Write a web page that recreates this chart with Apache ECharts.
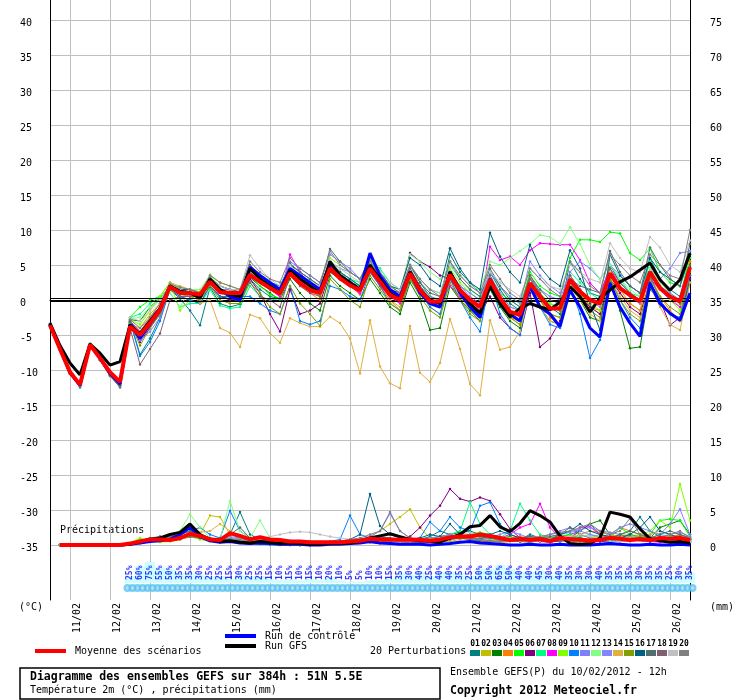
<!DOCTYPE html>
<html>
<head>
<meta charset="utf-8">
<script src="https://cdn.jsdelivr.net/npm/echarts@6/dist/echarts.min.js"></script>
<style>html,body{margin:0;padding:0;background:#fff}#chart{width:740px;height:700px}</style>
</head>
<body>
<div id="chart"></div>
<script>
// run du 10/02/2012 12h, pas de 6h jusqu'a 384h
var DAYS = ['10/02','11/02','12/02','13/02','14/02','15/02','16/02','17/02','18/02','19/02','20/02','21/02','22/02','23/02','24/02','25/02','26/02'];
var TICKS_T = [-35,-30,-25,-20,-15,-10,-5,0,5,10,15,20,25,30,35,40];
var TICKS_MM = [0,5,10,15,20,25,30,35,40,45,50,55,60,65,70,75];
var COLORS = ['#008080','#c0c000','#008000','#ff8000','#00ff00','#800080','#00ff80','#ff00ff','#80ff00','#0080ff',
              '#8080ff','#80ff80','#8484ff','#e0b040','#80a000','#006080','#507070','#806070','#c0c0c0','#808080'];

// temperature 2m (°C)
var TMEAN = [-3.6,-7.0,-10.3,-12.1, -6.4,-8.3,-10.3,-11.7, -3.8,-5.0,-3.3,-1.4, 1.9,1.0,1.0,0.8, 2.6,1.1,1.0,1.0,
  3.6,2.6,1.7,0.9, 3.8,2.4,1.4,1.0, 4.5,3.1,2.1,1.4, 4.5,2.6,0.7,0.0, 3.8,1.4,-0.2,-0.2, 3.6,1.4,0.0,-1.0,
  2.9,0.3,-1.7,-2.1, 2.4,0.5,-1.2,-1.2, 2.9,1.2,0.0,-0.5, 3.8,1.7,0.7,-0.2, 4.0,1.7,0.5,-0.2, 4.7];
var TCTRL = [-3.4,-7.0,-10.4,-12.2, -6.3,-8.3,-10.5,-12.0, -3.5,-5.5,-3.5,-1.5, 2.0,1.2,1.0,0.5, 2.8,1.5,0.5,0.0,
  4.7,3.5,2.5,1.5, 4.5,3.5,2.5,1.5, 5.0,3.5,2.5,1.5, 6.7,3.5,1.5,0.5, 4.0,1.0,-0.5,-1.0, 4.0,1.0,-1.0,-2.5,
  3.0,0.0,-2.0,-3.0, 2.0,-1.0,-2.0,-3.8, 1.4,-1.0,-4.0,-5.3, 2.4,-1.0,-3.3,-5.2, 2.4,-0.5,-1.9,-2.9, 1.0];
var TGFS = [-3.3,-6.5,-9.0,-10.7, -6.3,-7.6,-9.3,-8.8, -3.6,-4.8,-3.0,-1.2, 2.0,1.2,1.0,0.3, 3.0,1.5,0.8,0.5,
  4.5,3.0,2.0,1.0, 4.2,3.0,2.0,1.0, 5.5,3.5,2.5,1.5, 5.0,3.0,1.0,0.0, 4.0,1.5,0.0,-0.5, 4.0,1.5,-0.5,-1.9,
  2.0,-0.5,-2.4,-1.2, -0.5,-1.0,-1.4,-0.3, 1.9,0.5,-1.7,0.3, 1.4,2.6,3.3,4.3, 5.3,2.9,1.4,2.9, 6.7];

var T01 = [-3.4,-7.1,-10.5,-12.2, -6.3,-8.4,-10.6,-12.0, -3.0,-7.8,-5.5,-2.5, 1.5,0.2,-1.5,-3.6, 1.8,-0.5,-1.0,-0.6,
  3.0,1.5,0.5,0.2, 4.3,3.0,2.0,1.5, 5.2,4.0,3.0,2.0, 5.5,3.5,1.0,0.4, 5.0,2.5,0.5,0.0, 6.5,4.0,2.5,1.0,
  4.0,1.5,-0.5,-1.5, 3.5,1.0,-1.0,-2.0, 5.5,3.0,1.0,0.5, 5.0,2.5,1.0,0.0, 6.0,3.0,1.5,0.5, 6.0];
var T02 = [-3.7,-6.9,-10.2,-12.0, -6.5,-8.2,-10.4,-11.8, -3.5,-4.0,-2.0,-0.5, 2.2,1.8,1.5,1.2, 3.6,2.5,2.0,1.5,
  4.0,3.0,2.0,1.0, 4.5,3.5,2.5,1.5, 5.5,4.0,2.5,1.0, 4.0,2.0,0.0,-1.0, 3.0,1.0,-1.0,-2.0, 3.0,0.5,-1.5,-2.5,
  2.0,-0.5,-2.5,-3.5, 2.0,0.0,-2.0,-2.5, 3.0,1.0,-1.0,-2.0, 3.5,1.0,-0.5,-1.5, 4.5,2.0,0.5,-1.0, 5.5];
var T03 = [-3.5,-7.0,-10.4,-12.3, -6.4,-8.5,-10.8,-12.2, -2.8,-3.0,-1.0,0.2, 2.0,1.5,1.2,0.5, 2.0,0.5,0.2,-0.2,
  3.2,2.0,1.0,0.0, 3.0,1.0,-0.5,-1.5, 3.5,2.0,1.0,0.0, 3.0,1.0,-1.0,-2.0, 2.5,0.0,-4.3,-4.0, 2.0,0.0,-1.5,-3.0,
  1.5,-1.0,-3.0,-4.0, 1.5,-1.0,-3.0,-3.5, 2.0,0.0,-2.5,-3.0, 2.5,-1.5,-6.9,-6.7, 1.5,0.0,-2.0,-3.0, 2.5];
var T04 = [-3.6,-7.2,-10.6,-12.4, -6.6,-8.6,-10.9,-12.3, -3.2,-5.5,-3.5,-1.5, 1.8,1.0,0.8,0.3, 2.8,1.5,1.2,0.8,
  3.8,2.5,1.5,0.5, 3.5,2.0,1.0,0.0, 4.8,3.5,2.0,0.8, 4.2,2.0,0.0,-1.5, 3.5,1.0,-0.5,-1.0, 4.0,1.5,-0.5,-1.5,
  3.0,0.0,-2.5,-3.0, 3.5,0.0,-2.5,-3.5, 3.5,1.5,-1.0,-1.5, 4.0,1.5,-0.5,-1.5, 3.5,0.5,-1.5,-3.0, 5.5];
var T05 = [-3.5,-7.0,-10.3,-12.0, -6.2,-8.2,-10.4,-11.9, -2.5,-1.0,0.0,0.5, 2.5,1.5,1.0,0.8, 2.5,1.0,0.5,0.0,
  3.5,2.0,0.8,0.2, 3.8,2.5,1.5,0.5, 4.0,3.0,2.5,2.0, 5.0,3.0,1.5,0.5, 4.0,2.0,0.5,0.0, 3.5,2.0,1.0,0.0,
  3.0,1.0,0.0,-1.0, 4.0,2.0,1.0,0.5, 6.0,8.6,8.6,8.3, 9.7,9.5,6.7,5.7, 7.4,4.0,2.5,2.0, 6.0];
var T06 = [-3.6,-7.0,-10.2,-12.1, -6.4,-8.3,-10.2,-11.6, -3.5,-6.0,-4.0,-2.0, 1.5,0.5,0.0,-0.5, 2.0,0.5,0.0,0.5,
  3.0,1.0,-2.0,-4.5, 1.5,-2.0,-1.5,-0.5, 4.0,3.0,2.0,1.0, 5.0,3.0,1.5,1.0, 6.7,5.5,4.7,3.5, 3.0,1.0,-1.0,-2.0,
  0.5,-2.5,-4.0,-5.0, 1.0,-6.7,-5.5,-3.0, 2.5,0.5,-1.0,-2.0, 3.0,1.0,-1.0,-2.0, 2.5,0.0,-3.6,-2.5, 3.0];
var T07 = [-3.5,-7.1,-10.4,-12.1, -6.3,-8.3,-10.5,-12.0, -2.5,-2.0,-0.5,0.5, 1.0,-1.0,-0.5,-0.5, 1.5,-0.8,-1.2,-1.0,
  2.0,0.5,0.0,0.2, 4.5,3.5,2.5,1.0, 5.0,4.0,3.0,2.5, 5.5,4.5,2.5,1.5, 5.0,3.0,1.5,1.0, 5.0,3.0,1.5,0.5,
  4.0,2.0,0.5,-0.5, 3.0,1.0,-0.5,-1.5, 4.0,2.5,1.0,0.0, 5.0,3.0,1.0,0.5, 5.5,3.0,1.0,-0.5, 7.0];
var T08 = [-3.6,-7.0,-10.3,-12.2, -6.4,-8.4,-10.6,-12.1, -3.0,-4.5,-2.5,-1.0, 2.0,1.0,0.5,0.5, 3.0,1.5,1.0,1.0,
  3.5,2.5,1.5,0.5, 6.5,4.0,2.0,1.5, 5.0,3.0,2.0,1.0, 4.0,2.0,0.5,-0.5, 3.0,1.0,0.0,-0.5, 2.0,0.5,-0.5,-1.5,
  7.6,5.7,6.2,5.0, 7.1,8.1,8.0,7.9, 7.9,5.7,2.4,1.0, 4.5,2.0,0.5,-0.5, 3.0,1.5,0.0,-1.0, 3.5];
var T09 = [-3.6,-7.1,-10.4,-12.3, -6.5,-8.4,-10.7,-12.1, -2.8,-3.5,-1.5,0.5, 2.5,-1.5,0.0,0.5, 2.5,1.5,1.0,1.0,
  4.5,3.0,2.0,1.0, 4.0,3.0,2.0,1.5, 6.0,5.0,4.0,3.0, 6.0,4.0,2.0,1.0, 4.5,2.0,0.5,0.0, 4.5,2.5,1.0,0.0,
  3.5,1.0,-1.0,-1.5, 3.0,1.0,-0.5,-1.0, 3.0,1.0,-0.5,-1.5, 4.0,2.0,0.5,-0.5, 4.5,2.0,0.0,-1.5, 6.5];
var T10 = [-3.7,-7.2,-10.5,-12.5, -6.6,-8.6,-10.8,-12.4, -3.0,-8.0,-6.0,-3.0, 1.5,0.5,0.0,-0.5, 2.0,0.5,0.5,0.5,
  0.5,-0.5,-1.5,-2.0, 2.0,-3.0,-3.5,-3.0, 2.0,1.5,0.5,0.0, 4.0,2.0,-0.5,-1.5, 3.0,1.0,-1.0,-2.0, 3.0,0.0,-2.5,-4.5,
  3.0,-2.0,-4.0,-5.0, 1.5,-1.0,-3.5,-4.0, 2.0,-2.0,-8.3,-5.7, 3.0,0.0,-2.5,-4.0, 3.5,0.0,-2.0,-2.5, 3.5];
var T11 = [-3.5,-6.9,-10.2,-12.0, -6.3,-8.2,-10.3,-11.8, -3.2,-4.5,-3.0,-1.0, 2.2,1.2,1.0,1.0, 3.0,1.5,1.5,1.0,
  4.0,3.0,2.0,1.5, 5.5,4.5,3.5,2.5, 6.5,5.5,4.5,3.0, 5.0,3.0,1.0,0.0, 4.0,1.5,0.0,-0.5, 4.0,2.0,0.5,-0.5,
  3.5,1.0,-1.0,-1.5, 3.0,1.5,0.5,0.0, 4.0,5.5,4.5,3.0, 5.0,3.5,2.0,1.0, 4.5,3.0,4.5,6.7, 7.0];
var T12 = [-3.6,-7.0,-10.3,-12.1, -6.4,-8.3,-10.4,-11.9, -2.6,-2.5,-1.0,0.0, 1.0,-1.0,1.5,1.5, 3.5,2.0,1.5,1.0,
  4.0,3.0,2.5,1.5, 4.5,3.0,2.0,1.5, 5.0,4.0,3.0,2.0, 6.0,4.0,2.0,1.5, 6.5,5.5,4.0,3.0, 5.0,3.5,2.0,1.5,
  5.5,5.0,6.0,7.0, 8.0,9.3,9.0,8.0, 10.4,8.0,5.0,3.0, 5.0,3.0,1.5,0.5, 4.5,2.5,1.0,0.0, 5.0];
var T13 = [-3.5,-7.0,-10.4,-12.2, -6.4,-8.4,-10.5,-12.0, -3.2,-5.8,-4.5,-2.5, 1.8,1.0,0.8,0.5, 2.5,1.5,1.0,1.0,
  4.0,2.5,1.5,1.0, 4.0,3.0,2.5,1.5, 5.5,4.5,4.0,3.0, 5.5,3.5,1.5,0.5, 4.5,2.0,0.5,0.0, 4.0,2.0,1.0,0.0,
  4.0,2.0,0.5,-0.5, 5.5,3.5,2.0,1.0, 3.5,1.5,0.0,-1.0, 3.5,1.5,0.5,-0.5, 4.0,2.0,1.0,0.0, 4.5];
var T14 = [-3.6,-7.1,-10.4,-12.2, -6.5,-8.4,-10.6,-12.0, -3.5,-4.5,-2.5,-0.5, 2.5,2.0,1.5,-0.5, 0.0,-4.0,-4.7,-6.7,
  -2.1,-2.6,-4.7,-6.1, -2.6,-3.3,-3.8,-3.8, -2.4,-3.3,-5.5,-10.5, -2.9,-9.5,-11.9,-12.6, -3.7,-10.4,-11.7,-9.0,
  -2.7,-7.0,-12.0,-13.6, -2.9,-7.1,-6.7,-4.5, 1.5,-1.0,-3.0,-3.5, 2.0,0.0,-2.0,-3.0, 3.0,0.5,-1.5,-2.5, 2.0,-1.0,-3.5,-4.3, 2.5];
var T15 = [-3.6,-7.0,-10.3,-12.3, -6.4,-8.4,-10.7,-12.2, -3.3,-6.5,-4.0,-2.0, 1.5,0.8,0.5,0.0, 2.0,0.0,-0.5,-0.5,
  2.5,1.0,-1.0,-2.0, 2.0,-0.5,-2.0,-3.7, 3.0,1.5,0.0,-1.0, 3.5,1.5,-0.5,-1.5, 3.0,0.5,-1.5,-2.5, 2.5,0.0,-2.0,-3.0,
  2.5,-0.5,-2.5,-3.5, 2.0,0.0,-2.0,-2.5, 2.5,0.5,-1.5,-2.5, 3.0,0.0,-2.0,-3.0, 3.0,0.5,-1.0,-2.0, 4.0];
var T16 = [-3.6,-7.0,-10.4,-12.2, -6.4,-8.4,-10.6,-12.1, -3.0,-5.0,-3.0,-1.0, 2.0,1.5,1.5,1.0, 3.0,2.0,1.5,1.5,
  4.5,3.5,2.5,2.0, 5.0,4.0,3.0,2.0, 5.5,4.0,3.0,2.0, 5.5,4.0,2.0,1.5, 6.0,5.0,3.0,2.0, 7.4,4.5,2.5,1.5,
  9.6,6.2,4.0,2.5, 7.9,4.7,3.0,2.0, 7.1,4.5,-0.5,-4.3, 6.5,3.5,2.0,1.0, 6.0,4.0,3.0,2.0, 6.5];
var T17 = [-3.5,-7.0,-10.3,-12.1, -6.4,-8.3,-10.5,-11.9, -3.1,-5.5,-3.5,-1.5, 2.0,1.5,1.0,0.5, 3.2,2.0,1.5,1.2,
  5.0,3.5,2.5,1.5, 5.2,4.0,3.0,2.0, 7.3,5.5,4.0,3.0, 6.0,4.0,2.0,1.0, 5.0,2.5,1.0,0.5, 5.5,3.0,1.5,0.5,
  4.5,2.0,0.0,-1.0, 3.5,1.5,0.0,-0.5, 3.0,2.0,1.5,1.0, 7.0,4.0,2.0,1.0, 7.5,5.0,3.0,2.0, 8.0];
var T18 = [-3.6,-7.1,-10.4,-12.3, -6.5,-8.4,-10.8,-12.5, -4.0,-9.2,-7.0,-4.8, 0.0,0.5,0.5,0.5, 2.5,1.5,1.0,1.0,
  2.5,0.5,0.0,-1.0, 3.5,2.0,1.0,0.5, 4.5,3.0,2.0,1.5, 5.0,3.0,1.0,0.0, 4.5,2.0,0.0,-1.0, 4.0,1.5,-0.5,-1.5,
  3.5,0.5,-1.5,-2.5, 3.0,1.0,-1.0,-1.5, 3.5,1.5,0.0,-0.5, 4.5,2.5,1.0,0.0, 4.0,2.0,0.5,-0.5, 5.0];
var T19 = [-3.5,-6.9,-10.2,-12.0, -6.3,-8.2,-10.3,-11.7, -2.5,-3.0,-1.5,0.0, 2.0,1.5,1.0,1.0, 3.0,2.0,1.5,1.5,
  6.4,4.5,3.0,2.0, 5.0,3.5,2.5,2.0, 5.5,4.5,3.5,2.5, 5.5,4.0,2.5,1.5, 5.0,3.0,1.5,1.0, 5.0,3.5,2.0,1.0,
  4.0,2.5,1.5,0.5, 4.5,3.0,2.0,1.5, 5.0,4.0,3.0,2.5, 8.1,6.0,4.5,4.0, 9.0,7.5,5.0,4.0, 8.5];
var T20 = [-3.6,-7.0,-10.3,-12.0, -6.4,-8.3,-10.4,-11.8, -2.8,-4.0,-2.5,-0.5, 2.3,1.8,1.5,1.0, 3.5,2.5,2.0,1.5,
  5.5,4.0,3.0,2.5, 6.0,4.5,3.5,2.5, 7.0,5.0,4.0,3.0, 5.5,3.5,2.0,1.0, 5.0,3.0,1.5,0.5, 5.5,3.5,2.0,1.0,
  5.0,3.0,1.0,0.0, 4.5,3.0,1.5,0.5, 5.5,4.0,2.0,1.0, 6.5,5.0,3.5,2.5, 6.5,5.0,3.5,3.0, 10.0];

// precipitations (mm par 6h), de +6h a +384h
var PMEAN = [0,0,0,0,0,0,0, 0.2,0.5,0.8,0.8,0.7,1.0,1.6,1.3,0.8,0.7, 1.7,1.3,0.8,1.1,0.8,0.7,0.5,0.5,0.4,0.4,
  0.4,0.4,0.5,0.6,0.9,0.8,0.8,0.75,0.8,0.75, 0.6,0.8,1.1,1.2,1.2,1.5,1.3,1.0,0.7,0.85,
  0.7,0.85,0.55,1.0,0.85,0.8,0.6,0.7,1.0,0.9, 0.7,0.85,0.7,1.0,0.9,1.0,0.7];
var PGFS = [0,0,0,0,0,0,0, 0.1,0.5,0.8,1.0,1.5,1.8,3.0,1.5,0.8,0.5, 0.6,0.4,0.3,0.5,0.4,0.2,0.3,0.2,0.1,0.1,
  0.2,0.2,0.3,0.5,1.0,1.3,1.6,1.2,0.8,0.6, 0.5,0.4,1.0,1.5,2.6,2.8,4.2,2.6,1.9,3.1,
  4.9,4.2,3.3,1.3,0.2,0.1,0.2,1.0,4.7,4.4, 4.0,2.3,0.9,0.6,0.4,0.5,0.3];
var PCTRL = [0,0,0,0,0,0,0, 0.1,0.3,0.5,0.6,0.8,1.5,2.5,1.2,0.6,0.4, 0.5,0.3,0.2,0.3,0.2,0.1,0.1,0.1,0,0,
  0.1,0.1,0.2,0.3,0.5,0.3,0.2,0.1,0.1,0.1, 0,0.1,0.2,0.4,0.5,0.3,0.2,0.1,0,0,
  0.1,0,0,0.1,0,0,0,0.1,0.2,0.1, 0,0,0.1,0,0,0.1,0];

var P01 = [0,0,0,0,0,0,0, 0.2,0.6,1.0,1.2,0.8,1.0,1.5,1.2,0.8,1.0, 1.5,4.7,1.5,0.8,0.5,0.3,0.2,0.1,0.1,0.2,
  0.3,0.2,0.3,0.5,1.0,1.2,0.8,0.6,0.5,0.8, 1.2,2.0,1.5,1.0,0.8,0.5,0.6,1.0,1.2,0.8,
  1.5,1.0,0.8,1.2,1.5,2.0,3.0,1.5,1.0,1.5, 2.0,4.0,2.0,1.2,1.0,1.5,1.0];
var P02 = [0,0,0,0,0,0,0, 0.1,0.5,0.8,1.0,1.2,1.8,2.5,1.5,4.2,4.0, 1.5,1.0,0.8,0.5,0.3,0.2,0.2,0.1,0.1,0.2,
  0.3,0.3,0.5,0.8,1.2,2.0,3.0,4.0,5.1,2.5, 1.0,0.5,0.5,0.8,1.0,0.8,0.5,0.3,0.5,0.8,
  0.8,0.6,0.5,0.8,1.0,0.8,0.5,0.6,0.8,1.0, 1.2,0.8,0.5,0.8,1.0,1.2,0.8];
var P03 = [0,0,0,0,0,0,0, 0.2,0.5,0.7,0.8,0.6,0.8,1.2,1.0,0.6,0.5, 1.0,0.8,0.5,0.4,0.3,0.2,0.1,0.1,0.0,0.1,
  0.2,0.3,0.5,0.8,1.0,0.8,0.5,0.5,0.6,0.8, 1.0,1.2,1.5,1.8,2.0,1.5,1.0,0.8,0.6,0.5,
  0.4,0.6,0.8,0.5,1.0,2.0,3.0,3.5,1.5,1.0, 0.8,0.6,1.0,2.5,3.0,3.5,1.5];
var P04 = [0,0,0,0,0,0,0, 0.1,0.4,0.6,0.8,1.0,1.5,2.0,1.2,0.8,0.5, 0.8,0.6,0.4,0.3,0.2,0.1,0.1,0.0,0.0,0.1,
  0.1,0.2,0.4,0.6,0.8,1.0,0.8,0.6,0.5,0.4, 0.6,0.8,1.0,1.2,1.0,0.8,0.6,0.8,1.0,1.2,
  1.0,0.8,0.6,0.8,1.0,1.5,2.0,1.8,1.5,2.5, 2.0,1.5,1.0,0.8,1.2,1.5,1.0];
var P05 = [0,0,0,0,0,0,0, 0.3,0.8,0.5,0.6,0.8,1.0,1.8,1.2,0.6,0.4, 0.5,0.3,0.2,0.1,0.0,0.0,0.1,0.0,0.0,0.1,
  0.2,0.4,0.6,0.8,0.5,0.3,0.5,0.8,1.0,0.8, 0.6,0.5,0.8,1.0,1.5,1.8,1.5,1.0,0.8,0.6,
  0.5,0.8,1.0,1.2,1.5,1.0,0.8,0.6,1.0,2.5, 1.5,1.0,1.5,3.5,3.7,3.5,1.2];
var P06 = [0,0,0,0,0,0,0, 0.1,0.3,0.5,0.6,0.8,1.0,1.2,1.0,0.8,0.6, 0.5,0.4,0.3,0.2,0.1,0.1,0.0,0.0,0.1,0.1,
  0.2,0.3,0.5,0.6,0.8,0.6,0.5,0.8,1.2,2.5, 4.2,5.6,8.0,6.6,6.2,6.8,6.3,4.4,2.3,1.0,
  0.8,0.5,0.4,0.6,0.8,1.0,0.8,0.5,0.6,0.8, 1.0,0.8,0.6,0.8,1.0,0.8,0.6];
var P07 = [0,0,0,0,0,0,0, 0.2,0.5,0.8,1.0,0.8,1.2,1.5,1.0,0.8,0.6, 1.0,0.8,0.5,0.3,0.2,0.1,0.0,0.0,0.1,0.2,
  0.3,0.4,0.5,0.5,0.6,0.8,0.6,0.5,0.4,0.5, 0.8,1.0,1.5,2.0,6.1,3.0,1.5,1.0,2.0,5.9,
  3.5,1.5,1.0,0.8,1.0,1.2,1.5,1.0,0.8,1.0, 1.5,1.2,1.0,1.5,1.2,1.0,0.8];
var P08 = [0,0,0,0,0,0,0, 0.1,0.4,0.6,0.8,0.6,0.8,1.2,1.0,0.6,0.4, 0.6,0.5,0.3,0.2,0.1,0.0,0.0,0.0,0.0,0.1,
  0.1,0.2,0.3,0.5,0.4,0.3,0.2,0.3,0.5,0.4, 0.6,0.8,1.0,1.5,1.2,1.0,0.8,1.0,1.5,2.5,
  3.0,5.9,2.5,1.0,0.8,2.5,2.6,1.5,0.8,0.5, 0.6,0.8,0.5,0.4,0.6,0.8,0.5];
var P09 = [0,0,0,0,0,0,0, 0.3,1.0,0.6,0.4,0.5,0.8,1.2,0.8,0.5,0.6, 0.8,0.5,0.3,0.2,0.2,0.1,0.1,0.0,0.0,0.1,
  0.2,0.3,0.4,0.5,0.6,0.8,1.0,0.8,0.6,0.5, 0.6,0.8,1.0,1.2,1.0,0.8,1.0,1.2,1.0,0.8,
  0.6,0.8,1.0,1.2,1.0,0.8,1.0,1.5,1.2,1.0, 1.2,1.5,2.0,3.5,2.5,8.7,3.5];
var P10 = [0,0,0,0,0,0,0, 0.1,0.5,0.8,1.0,1.2,1.5,2.0,2.5,1.5,1.0, 4.9,2.0,1.0,0.5,0.3,0.2,0.1,0.1,0.2,0.3,
  0.5,0.8,4.2,1.5,1.0,1.0,0.8,0.6,0.8,1.0, 3.3,2.0,4.0,2.5,2.0,5.6,6.1,3.0,1.5,1.0,
  0.8,0.6,0.5,0.8,1.0,0.8,0.6,0.5,0.4,0.6, 0.8,0.6,0.5,0.8,0.6,0.5,0.4];
var P11 = [0,0,0,0,0,0,0, 0.2,0.4,0.6,0.8,1.0,1.2,1.5,1.2,1.0,0.8, 1.2,1.0,0.8,0.5,0.3,0.2,0.2,0.1,0.1,0.2,
  0.3,0.4,0.5,0.8,1.2,2.0,4.5,2.0,1.0,0.8, 0.6,0.5,0.8,1.0,1.2,1.5,1.2,1.0,0.8,0.6,
  0.8,1.0,1.5,2.0,2.5,2.0,1.5,1.2,1.5,2.5, 3.0,2.5,2.0,1.5,3.0,5.1,1.5];
var P12 = [0,0,0,0,0,0,0, 0.3,0.6,0.8,1.0,1.5,2.0,4.4,2.5,1.0,0.8, 6.3,2.0,1.0,3.5,1.0,0.8,0.5,0.3,0.6,0.5,
  0.4,0.3,0.5,0.6,0.8,0.6,0.5,0.4,0.3,0.5, 0.8,1.0,1.2,1.5,1.2,1.0,0.8,0.6,0.5,0.8,
  1.0,1.2,0.8,0.6,0.5,0.8,1.0,0.8,0.6,0.5, 0.8,1.0,1.2,1.0,0.8,0.6,0.5];
var P13 = [0,0,0,0,0,0,0, 0.1,0.3,0.5,0.8,1.0,1.2,1.5,1.0,0.8,0.6, 0.8,0.6,0.5,0.4,0.3,0.5,0.6,0.4,0.2,0.2,
  0.3,0.5,0.6,0.8,1.0,0.8,0.6,0.5,0.6,0.8, 1.0,1.2,1.5,1.2,1.0,0.8,1.0,1.5,2.0,1.5,
  1.0,0.8,1.2,1.5,1.8,2.2,2.5,2.0,1.8,1.5, 1.2,1.0,0.8,1.2,1.5,1.8,1.2];
var P14 = [0,0,0,0,0,0,0, 0.1,0.3,0.5,0.8,1.0,1.5,2.0,1.8,2.0,3.0, 2.0,1.2,0.8,0.5,0.3,0.2,0.1,0.1,0.1,0.2,
  0.2,0.3,0.5,0.4,0.3,0.2,0.2,0.3,0.4,0.5, 0.8,1.0,1.2,1.0,0.8,0.6,0.5,0.4,0.6,0.8,
  1.0,1.2,1.0,0.8,0.6,0.8,1.0,1.2,1.5,1.2, 1.0,0.8,1.5,2.0,1.5,1.0,0.8];
var P15 = [0,0,0,0,0,0,0, 0.1,0.4,0.6,0.7,0.8,1.0,1.3,1.0,0.7,0.5, 0.6,0.5,0.4,0.3,0.2,0.1,0.1,0.0,0.0,0.1,
  0.2,0.3,0.4,0.5,0.6,0.5,0.4,0.3,0.4,0.5, 0.7,0.9,1.1,1.3,1.5,1.2,1.0,0.8,0.6,0.5,
  0.6,0.8,1.0,0.8,0.6,0.5,0.7,0.9,1.1,1.3, 1.5,1.2,1.0,0.8,1.0,1.2,1.0];
var P16 = [0,0,0,0,0,0,0, 0.2,0.5,0.8,1.0,1.2,1.0,1.5,1.2,0.8,0.6, 1.0,0.8,0.6,0.5,0.4,0.3,0.3,0.2,0.2,0.3,
  0.4,0.5,0.8,1.5,7.3,2.7,1.5,1.0,0.8,1.0, 1.5,1.2,3.0,1.5,1.0,0.8,1.5,2.0,1.5,1.0,
  1.2,1.0,0.8,1.5,2.0,3.0,2.0,1.5,1.2,1.0, 1.5,2.5,4.0,2.0,1.5,1.0,0.8];
var P17 = [0,0,0,0,0,0,0, 0.2,0.5,0.8,1.0,1.2,1.5,2.0,1.5,1.0,0.8, 1.5,2.5,1.0,0.6,0.4,0.3,0.2,0.1,0.1,0.2,
  0.3,0.4,0.6,0.8,1.0,1.2,1.0,0.8,0.6,0.5, 0.6,0.8,1.0,1.2,1.5,1.2,1.0,0.8,0.6,0.5,
  0.8,1.0,1.2,1.5,2.5,1.5,1.0,0.8,1.0,1.5, 2.0,1.5,1.0,1.5,2.0,1.5,1.0];
var P18 = [0,0,0,0,0,0,0, 0.1,0.3,0.5,0.6,0.8,1.0,1.2,1.0,0.8,0.6, 0.7,0.5,0.4,0.3,0.2,0.1,0.1,0.1,0.0,0.1,
  0.2,0.3,0.4,0.5,0.6,0.5,0.4,0.3,0.3,0.4, 0.5,0.6,0.8,1.0,0.8,0.6,0.5,0.6,0.8,1.0,
  1.2,1.0,0.8,0.6,0.5,0.6,0.8,1.0,1.2,1.0, 0.8,0.6,0.5,0.6,0.8,1.0,0.8];
var P19 = [0,0,0,0,0,0,0, 0.2,0.4,0.6,0.8,1.0,1.2,1.5,1.2,1.0,0.8, 1.0,0.8,0.6,0.8,1.2,1.5,1.8,1.9,1.8,1.5,
  1.2,1.0,0.8,0.6,0.5,0.4,0.3,0.4,0.5,0.6, 0.8,1.0,1.2,1.5,1.8,1.5,1.2,1.0,0.8,0.6,
  0.5,0.6,0.8,1.0,1.2,1.5,1.2,1.0,0.8,0.6, 0.5,0.6,0.8,1.0,0.8,0.6,0.5];
var P20 = [0,0,0,0,0,0,0, 0.2,0.5,0.7,0.9,1.1,1.3,1.6,1.3,1.0,0.8, 0.9,0.7,0.5,0.4,0.3,0.2,0.1,0.1,0.1,0.2,
  0.3,0.5,0.8,1.0,1.5,2.0,4.7,2.0,1.0,0.8, 0.6,0.8,1.0,1.2,1.0,0.8,0.6,0.5,0.6,0.8,
  1.0,1.2,1.5,1.8,2.0,2.5,3.0,2.0,1.5,2.0, 3.8,1.5,1.2,1.0,1.5,2.0,1.0];

// probabilite de neige (%), a partir du pas 8 (+48h)
var PROB_START = 8;
var PROB = [25,60,75,55,50,35,35,30,25,25, 15,30,25,25,15,10,15,10,15,10, 20,10,5,5,10,10,15,35,30,40,
  25,40,40,35,25,50,50,65,50,40, 40,45,30,40,35,30,30,40,35,35, 35,30,35,35,25,30,35];

var TEMP_MEMBERS = [T01,T02,T03,T04,T05,T06,T07,T08,T09,T10,T11,T12,T13,T14,T15,T16,T17,T18,T19,T20];
var PREC_MEMBERS = [P01,P02,P03,P04,P05,P06,P07,P08,P09,P10,P11,P12,P13,P14,P15,P16,P17,P18,P19,P20];

var FONT = 'DejaVu Sans Mono';

// pas de temps : 10/02 12h + 6h * i
var STEPS = [];
for (var i = 0; i < TMEAN.length; i++) {
    var h = 12 + 6 * i;
    var hh = h % 24;
    STEPS.push(DAYS[Math.floor(h / 24)] + ' ' + (hh < 10 ? '0' + hh : hh) + 'h');
}
function isMidnight(idx, val) { return /00h$/.test(val); }

var myChart = echarts.init(document.getElementById('chart'));

var series = [];
TEMP_MEMBERS.forEach(function (vals, k) {
    var name = (k < 9 ? '0' : '') + (k + 1);
    series.push({
        name: name, type: 'line', data: vals, yAxisIndex: 0,
        symbol: 'circle', symbolSize: 2.5, z: 3,
        lineStyle: {width: 1, color: COLORS[k]}, itemStyle: {color: COLORS[k]}
    });
});
PREC_MEMBERS.forEach(function (vals, k) {
    var name = (k < 9 ? '0' : '') + (k + 1);
    series.push({
        name: name, type: 'line', data: [null].concat(vals), yAxisIndex: 1,
        symbol: 'circle', symbolSize: 2.5, z: 3,
        lineStyle: {width: 1, color: COLORS[k]}, itemStyle: {color: COLORS[k]}
    });
});

// ligne du 0°C
series.push({
    name: 'zero', type: 'line', data: [], yAxisIndex: 0, z: 4,
    markLine: {
        silent: true, symbol: 'none', animation: false, label: {show: false},
        data: [
            {yAxis: 0.18, lineStyle: {color: '#000', width: 1, type: 'solid'}},
            {yAxis: -0.22, lineStyle: {color: '#000', width: 1, type: 'solid'}}
        ]
    }
});

function thick(name, data, axis, color, width) {
    return {
        name: name, type: 'line', data: data, yAxisIndex: axis, showSymbol: false, z: 5,
        lineStyle: {width: width, color: color}, itemStyle: {color: color}
    };
}
series.push(thick('Run de contrôle', TCTRL, 0, '#0000ff', 3));
series.push(thick('Run de contrôle', [null].concat(PCTRL), 1, '#0000ff', 3));
series.push(thick('Run GFS', TGFS, 0, '#000000', 3));
series.push(thick('Run GFS', [null].concat(PGFS), 1, '#000000', 3));
series.push(thick('Moyenne des scénarios', TMEAN, 0, '#ff0000', 4));
series.push(thick('Moyenne des scénarios', [null].concat(PMEAN), 1, '#ff0000', 4));

// bande des probabilites
var probBars = [], probLabels = [], snow = [];
PROB.forEach(function (p, k) {
    var idx = PROB_START + k;
    probBars.push([idx, p]);
    probLabels.push({value: [idx, -40, p]});
    snow.push([idx, -41.14]);
});
series.push({
    name: 'prob', type: 'bar', data: probBars, yAxisIndex: 2, barWidth: 10, z: 2,
    itemStyle: {color: '#ccffff'}, silent: true
});
[-2.5, 2.5].forEach(function (dx) {
    series.push({
        name: 'neige', type: 'scatter', data: snow, yAxisIndex: 0, symbol: 'circle', symbolSize: 8,
        symbolOffset: [dx, 0], itemStyle: {color: '#5ec0ef'}, z: 2, silent: true
    });
    series.push({
        name: 'neige', type: 'scatter', data: snow, yAxisIndex: 0, symbol: 'diamond', symbolSize: 4,
        symbolOffset: [dx, 0], itemStyle: {color: '#b8ecff'}, z: 2, silent: true
    });
});
series.push({
    name: 'probtxt', type: 'scatter', data: probLabels, yAxisIndex: 0, symbolSize: 0, z: 7, silent: true,
    label: {
        show: true, position: 'inside', rotate: 90, align: 'left', verticalAlign: 'middle',
        formatter: function (d) { return d.value[2] + '%'; },
        color: '#0000ff', fontFamily: FONT, fontSize: 8, fontWeight: 'bold'
    }
});

var graphic = [
    {type: 'text', left: 60, top: 525, style: {text: 'Précipitations', font: '10px "' + FONT + '"', fill: '#000'}},
    {type: 'text', left: 370, top: 646, style: {text: '20 Perturbations', font: '10px "' + FONT + '"', fill: '#000'}},
    {type: 'rect', shape: {x: 20, y: 668, width: 420, height: 31}, style: {fill: 'none', stroke: '#000', lineWidth: 1.5}},
    {type: 'text', left: 30, top: 671, style: {text: 'Diagramme des ensembles GEFS sur 384h : 51N 5.5E', font: 'bold 11.5px "' + FONT + '"', fill: '#000'}},
    {type: 'text', left: 30, top: 685, style: {text: 'Température 2m (°C) , précipitations (mm)', font: '10px "' + FONT + '"', fill: '#000'}},
    {type: 'text', left: 450, top: 667, style: {text: 'Ensemble GEFS(P) du 10/02/2012 - 12h', font: '10px "' + FONT + '"', fill: '#000'}},
    {type: 'text', left: 450, top: 685, style: {text: 'Copyright 2012 Meteociel.fr', font: 'bold 11.5px "' + FONT + '"', fill: '#000'}}
];
COLORS.forEach(function (c, k) {
    graphic.push({type: 'rect', shape: {x: 470 + 11 * k, y: 650, width: 10, height: 6}, style: {fill: c}});
    graphic.push({type: 'text', x: 475 + 11 * k, y: 640, style: {text: (k < 9 ? '0' : '') + (k + 1), font: 'bold 8px "' + FONT + '"', fill: '#000', align: 'center'}});
});

// libelles decales : ligne vide devant le texte
function shiftY(v) { return ' \n' + v; }
function dayLabel(v) { return ' \n' + v.slice(0, 5); }

option = {
    animation: false,
    backgroundColor: '#fff',
    tooltip: {trigger: 'item'},
    grid: {left: 50, right: 50, top: 0, bottom: 100, outerBoundsMode: 'none'},
    legend: [
        {data: ['Moyenne des scénarios'], left: 35, top: 646, padding: 0, icon: 'rect', itemWidth: 31, itemHeight: 4,
         textStyle: {fontFamily: FONT, fontSize: 10, color: '#000', padding: [0, 0, 0, 4]}},
        {data: ['Run de contrôle', 'Run GFS'], orient: 'vertical', left: 225, top: 631, padding: 0, icon: 'rect',
         itemWidth: 31, itemHeight: 4, itemGap: 0,
         textStyle: {fontFamily: FONT, fontSize: 10, color: '#000', lineHeight: 10, padding: [0, 0, 0, 4]}}
    ],
    xAxis: {
        type: 'category', data: STEPS, boundaryGap: false,
        axisLine: {lineStyle: {color: '#000', width: 1}},
        axisTick: {show: false},
        axisLabel: {interval: isMidnight, rotate: 90, margin: 3, lineHeight: 15,
                    formatter: dayLabel, fontFamily: FONT, fontSize: 10, color: '#000'},
        splitLine: {show: true, interval: isMidnight, lineStyle: {color: '#c0c0c0'}}
    },
    yAxis: [
        {type: 'value', min: -42.857, max: 42.857, position: 'left',
         axisLine: {show: true, lineStyle: {color: '#000'}},
         axisTick: {show: false, customValues: TICKS_T},
         axisLabel: {customValues: TICKS_T, align: 'left', margin: 30, lineHeight: 6, formatter: shiftY,
                     fontFamily: FONT, fontSize: 10, color: '#000'},
         splitLine: {show: true, lineStyle: {color: '#c0c0c0'}},
         name: '(°C)', nameLocation: 'start', nameGap: 2,
         nameTextStyle: {align: 'right', verticalAlign: 'top', padding: [0, 7, 0, 0], fontFamily: FONT, fontSize: 10, color: '#000'}},
        {type: 'value', min: -7.857, max: 77.857, position: 'right',
         axisLine: {show: true, lineStyle: {color: '#000'}},
         axisTick: {show: false, customValues: TICKS_MM},
         axisLabel: {customValues: TICKS_MM, align: 'left', margin: 20, lineHeight: 6, formatter: shiftY,
                     fontFamily: FONT, fontSize: 10, color: '#000'},
         splitLine: {show: false},
         name: '(mm)', nameLocation: 'start', nameGap: 2,
         nameTextStyle: {align: 'left', verticalAlign: 'top', padding: [0, 0, 0, 20], fontFamily: FONT, fontSize: 10, color: '#000'}},
        {type: 'value', min: -60.71, max: 2082.14, show: false}
    ],
    graphic: graphic,
    series: series
};
myChart.setOption(option);
</script>
</body>
</html>
